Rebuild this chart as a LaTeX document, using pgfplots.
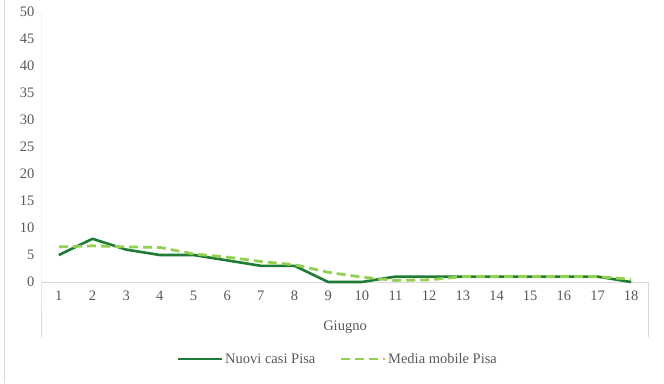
\documentclass[border=0pt]{standalone}
\usepackage{pgfplots}
\pgfplotsset{compat=1.18}
\usepackage{fontspec}
\setmainfont{Liberation Serif}
\definecolor{dkgreen}{HTML}{1E7B34}
\definecolor{ltgreen}{HTML}{92D050}
\definecolor{txt}{HTML}{595959}
\definecolor{grid}{HTML}{D9D9D9}
\begin{document}
\begin{tikzpicture}
\path[use as bounding box] (0pt,0pt) rectangle (664pt,383pt);
\draw[grid, line width=1pt] (4pt,0pt) -- (4pt,383pt);
\begin{axis}[
  at={(42pt,101pt)}, anchor=south west,
  scale only axis, width=606pt, height=270pt,
  xmin=0.5, xmax=18.5, ymin=0, ymax=50,
  xtick={1,...,18}, ytick={0,5,...,50},
  axis line style={draw=none},
  major tick length=0pt,
  tick label style={font=\fontsize{14.5}{16}\selectfont, text=txt},
  /pgf/number format/assume math mode=true,
  xticklabel style={yshift=-5pt},
  yticklabel style={xshift=-4pt},
  xlabel={Giugno}, xlabel style={font=\fontsize{14.5}{16}\selectfont, text=txt, yshift=-14pt},
  clip=false,
  legend columns=2,
  legend style={at={(0.488,-0.285)}, anchor=center, draw=none, fill=none,
    font=\fontsize{14.5}{16}\selectfont, text=txt,
    /tikz/every even column/.append style={column sep=22pt}},
  legend image code/.code={\draw[#1] (0pt,0pt) -- (44pt,0pt);},
]
\draw[grid, line width=1pt] (axis cs:0.5,50) -- (axis cs:0.5,0) -- ++(0pt,-55pt);
\draw[grid, line width=1pt] (axis cs:0.5,0) -- (axis cs:18.5,0) -- ++(0pt,-55pt);
\addplot[dkgreen, line width=2.6pt, line join=round] coordinates {
(1,5) (2,8) (3,6) (4,5) (5,5) (6,4) (7,3) (8,3) (9,0) (10,0) (11,1) (12,1) (13,1) (14,1) (15,1) (16,1) (17,1) (18,0)};
\addlegendentry{Nuovi casi Pisa}
\addplot[ltgreen, line width=2.8pt, dash pattern=on 9pt off 5pt] coordinates {
(1,6.5) (2,6.7) (3,6.5) (4,6.4) (5,5.2) (6,4.6) (7,3.8) (8,3.2) (9,1.8) (10,0.9) (11,0.3) (12,0.4) (13,1) (14,1) (15,1) (16,1) (17,1) (18,0.5)};
\addlegendentry{Media mobile Pisa}
\end{axis}
\end{tikzpicture}
\end{document}
